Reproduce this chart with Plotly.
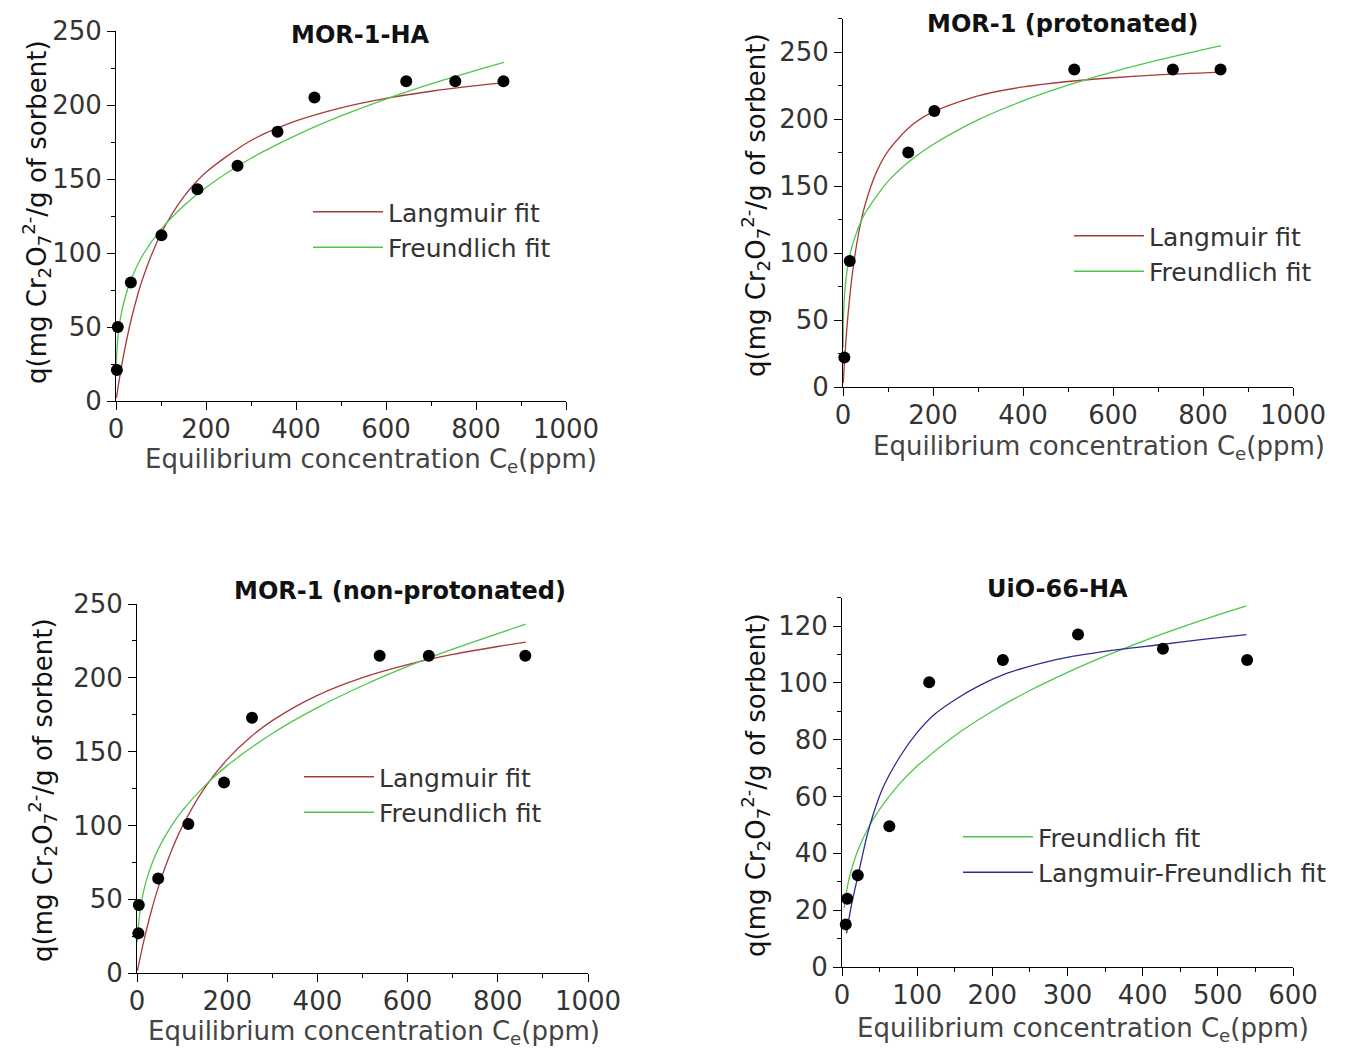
import plotly.graph_objects as go

# The page body adds an 8px margin, so the figure is sized to fit the 1348x1050 window.
OFF = 8
FW, FH = 1348 - OFF, 1050 - OFF
FONT = "DejaVu Sans"

# ---------------- data ----------------
# Panel 1: MOR-1-HA
p1_ce = [2, 4, 33, 101, 181, 270, 359, 441, 645, 754, 861]
p1_q = [21, 50, 80, 112, 143, 159, 182, 205, 216, 216, 216]
p1_lang_ce = [1, 5, 15, 35, 60, 100, 150, 200, 300, 400, 500, 600, 700, 800, 862]
p1_lang_q = [2.1, 10.1, 28.0, 56.6, 83.3, 113.0, 137.7, 154.5, 176.0, 189.2, 198.1, 204.5, 209.3, 213.1, 215.1]
p1_freu_ce = [0.5, 1, 3, 5, 10, 20, 35, 60, 100, 150, 200, 300, 400, 500, 600, 700, 800, 862]
p1_freu_q = [21.9, 27.2, 38.4, 45.2, 56.2, 69.8, 83.3, 98.8, 116.0, 131.8, 144.3, 164.0, 179.5, 192.6, 204.0, 214.2, 223.4, 228.8]

# Panel 2: MOR-1 (protonated)
p2_ce = [3, 15, 145, 203, 514, 733, 839]
p2_q = [22, 94, 175, 206, 237, 237, 237]
p2_lang_ce = [0.5, 2, 5, 10, 20, 35, 50, 75, 100, 150, 200, 300, 400, 500, 600, 700, 840]
p2_lang_q = [3.1, 11.8, 27.5, 49.5, 82.4, 115.3, 137.1, 160.9, 176.1, 194.6, 205.3, 217.3, 223.9, 228.0, 230.8, 232.9, 235.0]
p2_freu_ce = [0.1, 0.5, 1, 3, 5, 10, 20, 35, 50, 100, 150, 200, 300, 400, 500, 600, 700, 840]
p2_freu_q = [29.7, 43.5, 51.3, 66.6, 75.3, 88.7, 104.7, 119.6, 130.2, 153.5, 169.1, 181.0, 199.4, 213.5, 225.2, 235.2, 243.9, 254.8]

# Panel 3: MOR-1 (non-protonated)
p3_ce = [3, 4, 47, 114, 193, 255, 538, 647, 861]
p3_q = [27, 46, 64, 101, 129, 173, 215, 215, 215]
p3_lang_ce = [1, 5, 15, 30, 50, 75, 100, 150, 200, 250, 300, 400, 500, 600, 700, 800, 862]
p3_lang_q = [1.6, 7.6, 21.6, 40.0, 60.7, 81.8, 99.0, 125.4, 144.7, 159.4, 171.0, 188.1, 200.1, 208.9, 215.8, 221.2, 224.1]
p3_freu_ce = [1, 3, 5, 10, 20, 35, 50, 75, 100, 150, 200, 300, 400, 500, 600, 700, 800, 862]
p3_freu_q = [21.3, 31.5, 37.8, 48.4, 61.9, 75.5, 85.8, 99.0, 109.8, 126.8, 140.5, 162.3, 179.8, 194.6, 207.7, 219.4, 230.0, 236.3]

# Panel 4: UiO-66-HA
p4_ce = [5, 7, 21, 63, 116, 214, 314, 427, 539]
p4_q = [15, 24, 32.3, 49.5, 100.2, 108, 117, 112, 108]
p4_freu_ce = [3, 5, 10, 20, 35, 50, 75, 100, 150, 200, 250, 300, 350, 400, 450, 500, 538]
p4_freu_q = [20.8, 24.9, 31.7, 40.3, 49.0, 55.5, 64.0, 70.7, 81.4, 90.0, 97.3, 103.7, 109.4, 114.6, 119.4, 123.9, 127.1]
p4_lf_ce = [6, 13, 22, 33, 42, 55, 77, 99, 122, 153, 184, 219, 263, 308, 370, 425, 480, 538]
p4_lf_q = [11.8, 22.4, 33, 45.9, 54.1, 63.4, 74, 82.2, 88.7, 94.5, 99.2, 103.3, 106.8, 109.4, 111.8, 113.5, 115.3, 117]

titles = ["MOR-1-HA", "MOR-1 (protonated)", "MOR-1 (non-protonated)", "UiO-66-HA"]
x_title = "Equilibrium concentration C<sub>e</sub>(ppm)"
y_title = "q(mg Cr<sub>2</sub>O<sub>7</sub><sup>2-</sup>/g of sorbent)"

RED = "#a83a3a"
GREEN = "#4ec64e"
BLUE = "#2e2e8e"


def px_x(p):
    return (p - OFF) / FW


def px_y(p):
    return 1 - (p - OFF) / FH


fig = go.Figure()

panels = [
    dict(ax="", pts=(p1_ce, p1_q),
         curves=[("Langmuir fit", p1_lang_ce, p1_lang_q, RED), ("Freundlich fit", p1_freu_ce, p1_freu_q, GREEN)],
         legend="legend"),
    dict(ax="2", pts=(p2_ce, p2_q),
         curves=[("Langmuir fit", p2_lang_ce, p2_lang_q, RED), ("Freundlich fit", p2_freu_ce, p2_freu_q, GREEN)],
         legend="legend2"),
    dict(ax="3", pts=(p3_ce, p3_q),
         curves=[("Langmuir fit", p3_lang_ce, p3_lang_q, RED), ("Freundlich fit", p3_freu_ce, p3_freu_q, GREEN)],
         legend="legend3"),
    dict(ax="4", pts=(p4_ce, p4_q),
         curves=[("Freundlich fit", p4_freu_ce, p4_freu_q, GREEN), ("Langmuir-Freundlich fit", p4_lf_ce, p4_lf_q, BLUE)],
         legend="legend4"),
]

for pn in panels:
    xa = "x" + pn["ax"]
    ya = "y" + pn["ax"]
    for name, cx, cy, col in pn["curves"]:
        fig.add_trace(go.Scatter(x=cx, y=cy, mode="lines", name=name, xaxis=xa, yaxis=ya,
                                 line=dict(color=col, width=1.3, shape="spline", smoothing=0.8),
                                 legend=pn["legend"], showlegend=True))
    fig.add_trace(go.Scatter(x=pn["pts"][0], y=pn["pts"][1], mode="markers", xaxis=xa, yaxis=ya,
                             marker=dict(color="#000000", size=12, line=dict(width=0)),
                             showlegend=False, cliponaxis=False))

# axis geometry in reference pixels: x of value 0 / max, y of value 0 / top of range
geo = {
    "": dict(xd=(116, 566), yd=(401, 31), xr=[0, 1000], yr=[0, 250], xdt=200, xmdt=100, ydt=50, ymdt=25),
    "2": dict(xd=(843, 1293), yd=(387, 18.5), xr=[0, 1000], yr=[0, 275], xdt=200, xmdt=100, ydt=50, ymdt=25),
    "3": dict(xd=(137, 588), yd=(973, 604), xr=[0, 1000], yr=[0, 250], xdt=200, xmdt=100, ydt=50, ymdt=25),
    "4": dict(xd=(842, 1293), yd=(967, 597.6), xr=[0, 600], yr=[0, 130], xdt=100, xmdt=50, ydt=20, ymdt=10),
}

layout = dict(width=FW, height=FH, margin=dict(l=0, r=0, t=0, b=0, autoexpand=False),
              paper_bgcolor="white", plot_bgcolor="white", showlegend=True,
              font=dict(family=FONT, color="#333333"))

for k, g in geo.items():
    common = dict(showline=True, linecolor="#000000", linewidth=1, showgrid=False, zeroline=False,
                  ticks="outside", ticklen=8, tickwidth=1, tickcolor="#000000", automargin=False,
                  tickfont=dict(family=FONT, size=26, color="#333333"))
    layout["xaxis" + k] = dict(common, domain=[px_x(g["xd"][0]), px_x(g["xd"][1])], range=g["xr"],
                               dtick=g["xdt"], tick0=0, anchor="y" + k, ticklabelstandoff=-3,
                               minor=dict(ticks="outside", ticklen=4, dtick=g["xmdt"], tick0=0,
                                          tickcolor="#000000", showgrid=False))
    layout["yaxis" + k] = dict(common, domain=[px_y(g["yd"][0]), px_y(g["yd"][1])], range=g["yr"],
                               dtick=g["ydt"], tick0=0, anchor="x" + k,
                               minor=dict(ticks="outside", ticklen=4, dtick=g["ymdt"], tick0=0,
                                          tickcolor="#000000", showgrid=False))

leg_pos = {"legend": (308, 189), "legend2": (1069, 213), "legend3": (299, 754), "legend4": (958, 814)}
for lk, (lx, ly) in leg_pos.items():
    layout[lk] = dict(x=px_x(lx), y=px_y(ly), xanchor="left", yanchor="top", bgcolor="rgba(0,0,0,0)",
                      font=dict(family=FONT, size=25, color="#333333"), itemwidth=70, tracegroupgap=0)

ann = []
title_pos = [(360, 35), (1062, 24), (400, 591), (1057, 589)]
for t, (tx, ty) in zip(titles, title_pos):
    ann.append(dict(text="<b>" + t + "</b>", x=px_x(tx), y=px_y(ty), xref="paper", yref="paper",
                    xanchor="center", yanchor="middle", showarrow=False,
                    font=dict(family=FONT, size=24, color="#111111")))
xt_pos = [(371, 460), (1099, 448), (374, 1032), (1083, 1029)]
for (tx, ty) in xt_pos:
    ann.append(dict(text=x_title, x=px_x(tx), y=px_y(ty), xref="paper", yref="paper",
                    xanchor="center", yanchor="middle", showarrow=False,
                    font=dict(family=FONT, size=26, color="#444444")))
yt_pos = [(36, 212), (755, 205), (42, 790), (755, 785)]
for (tx, ty) in yt_pos:
    ann.append(dict(text=y_title, x=px_x(tx), y=px_y(ty), xref="paper", yref="paper",
                    xanchor="center", yanchor="middle", showarrow=False, textangle=-90,
                    font=dict(family=FONT, size=26, color="#111111")))
layout["annotations"] = ann

fig.update_layout(**layout)
fig.write_html("out.html")
